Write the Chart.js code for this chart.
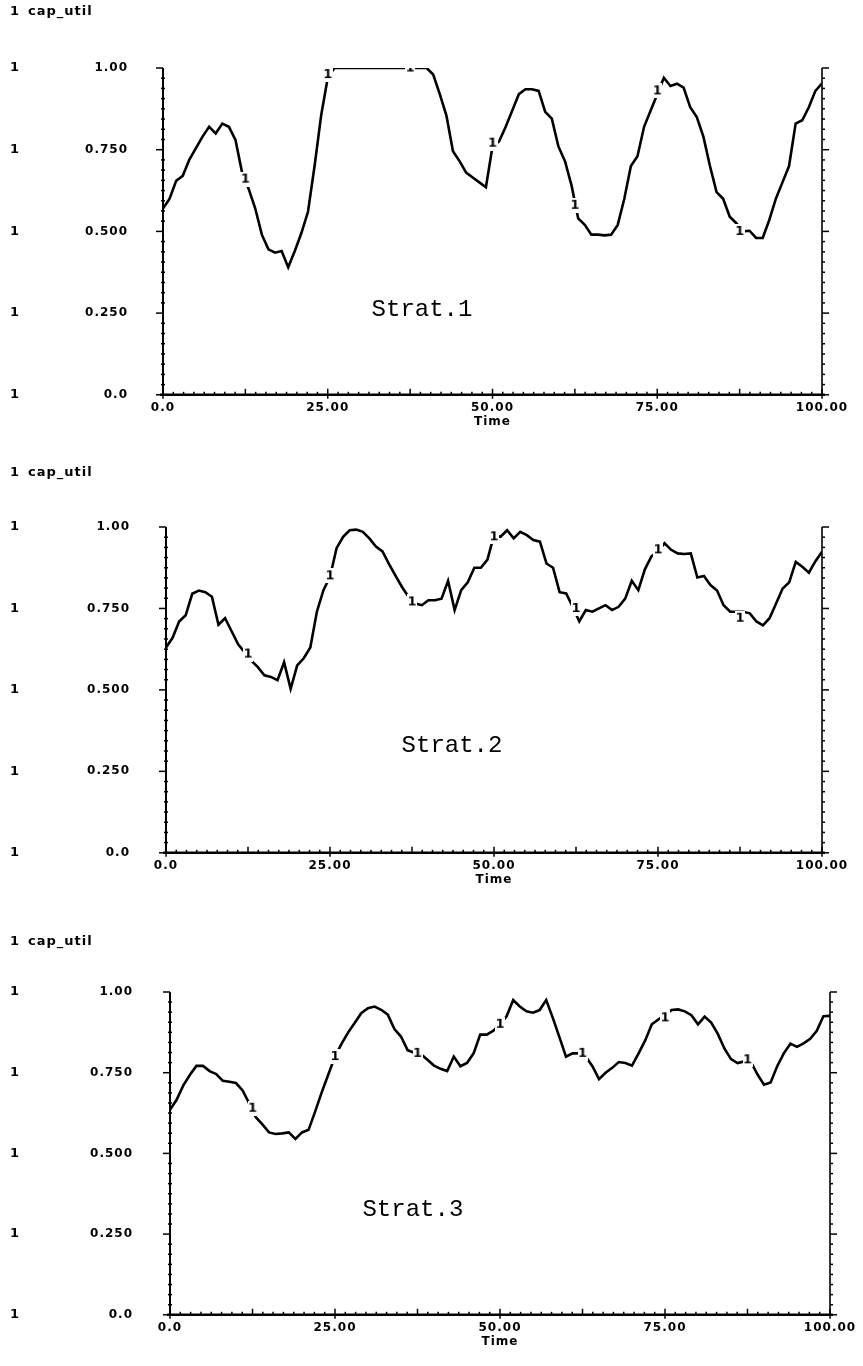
<!DOCTYPE html>
<html>
<head>
<meta charset="utf-8">
<title>cap_util</title>
<script src="https://cdn.jsdelivr.net/npm/chart.js@4.4.1/dist/chart.umd.min.js"></script>
<style>
    html, body { margin: 0; padding: 0; background: #fff; }
    #page { position: relative; width: 863px; height: 1366px; overflow: hidden; }
    .plot { position: absolute; left: 0; }
</style>
</head>
<body>
<div id="page">
    <canvas id="strat1" class="plot"></canvas>
    <canvas id="strat2" class="plot"></canvas>
    <canvas id="strat3" class="plot"></canvas>
</div>
<script>
// cap_util over Time, three strategies

var timeSteps = [0, 1, 2, 3, 4, 5, 6, 7, 8, 9, 10, 11, 12, 13, 14, 15, 16, 17, 18, 19, 20,
    21, 22, 23, 24, 25, 26, 27, 28, 29, 30, 31, 32, 33, 34, 35, 36, 37, 38, 39, 40,
    41, 42, 43, 44, 45, 46, 47, 48, 49, 50, 51, 52, 53, 54, 55, 56, 57, 58, 59, 60,
    61, 62, 63, 64, 65, 66, 67, 68, 69, 70, 71, 72, 73, 74, 75, 76, 77, 78, 79, 80,
    81, 82, 83, 84, 85, 86, 87, 88, 89, 90, 91, 92, 93, 94, 95, 96, 97, 98, 99, 100];

var strat1Util = [0.57, 0.60, 0.655, 0.67, 0.72, 0.755, 0.79, 0.82, 0.80, 0.83, 0.82,
    0.78, 0.68, 0.63, 0.57, 0.49, 0.445, 0.435, 0.44, 0.39, 0.44,
    0.495, 0.56, 0.70, 0.855, 0.97, 1.0, 1.0, 1.0, 1.0, 1.0,
    1.0, 1.0, 1.0, 1.0, 1.0, 1.0, 1.0, 1.0, 1.0, 1.0,
    0.98, 0.92, 0.855, 0.745, 0.715, 0.68, 0.665, 0.65, 0.635, 0.76,
    0.775, 0.82, 0.87, 0.92, 0.935, 0.935, 0.93, 0.866, 0.845, 0.76,
    0.715, 0.64, 0.54, 0.52, 0.49, 0.49, 0.488, 0.49, 0.52, 0.60,
    0.70, 0.73, 0.82, 0.87, 0.92, 0.97, 0.945, 0.952, 0.94, 0.88,
    0.85, 0.79, 0.70, 0.62, 0.60, 0.545, 0.525, 0.50, 0.502, 0.48,
    0.48, 0.535, 0.60, 0.65, 0.70, 0.83, 0.84, 0.88, 0.93, 0.953];

var strat2Util = [0.63, 0.66, 0.71, 0.729, 0.795, 0.805, 0.80, 0.786, 0.70, 0.72, 0.68,
    0.64, 0.615, 0.59, 0.57, 0.545, 0.54, 0.53, 0.585, 0.503, 0.575,
    0.597, 0.63, 0.74, 0.806, 0.847, 0.935, 0.97, 0.99, 0.992, 0.985,
    0.965, 0.94, 0.925, 0.886, 0.85, 0.815, 0.785, 0.765, 0.76, 0.775,
    0.775, 0.78, 0.835, 0.745, 0.806, 0.83, 0.875, 0.875, 0.90, 0.975,
    0.97, 0.99, 0.965, 0.985, 0.975, 0.96, 0.955, 0.888, 0.875, 0.80,
    0.796, 0.755, 0.71, 0.745, 0.74, 0.75, 0.76, 0.745, 0.755, 0.78,
    0.835, 0.806, 0.87, 0.91, 0.925, 0.95, 0.93, 0.919, 0.917, 0.919,
    0.845, 0.85, 0.822, 0.805, 0.76, 0.74, 0.74, 0.74, 0.735, 0.71,
    0.698, 0.72, 0.765, 0.811, 0.83, 0.893, 0.878, 0.86, 0.895, 0.924];

var strat3Util = [0.635, 0.666, 0.71, 0.743, 0.771, 0.771, 0.755, 0.746, 0.725, 0.722, 0.718,
    0.695, 0.655, 0.612, 0.59, 0.565, 0.56, 0.562, 0.565, 0.545, 0.565,
    0.573, 0.63, 0.69, 0.745, 0.80, 0.84, 0.875, 0.905, 0.935, 0.95,
    0.955, 0.945, 0.93, 0.885, 0.862, 0.82, 0.812, 0.808, 0.79, 0.772,
    0.762, 0.755, 0.80, 0.77, 0.78, 0.81, 0.868, 0.868, 0.88, 0.90,
    0.925, 0.975, 0.955, 0.94, 0.936, 0.944, 0.975, 0.92, 0.86, 0.80,
    0.81, 0.81, 0.80, 0.77, 0.73, 0.75, 0.765, 0.783, 0.78, 0.772,
    0.81, 0.85, 0.90, 0.915, 0.93, 0.944, 0.946, 0.94, 0.928, 0.90,
    0.924, 0.905, 0.87, 0.825, 0.792, 0.78, 0.785, 0.784, 0.745, 0.713,
    0.72, 0.77, 0.81, 0.84, 0.83, 0.841, 0.855, 0.88, 0.925, 0.926];

// curve label "1" positions along each line
var markerTimes = [12.5, 25, 37.5, 50, 62.5, 75, 87.5];
var strat1Markers = [0.66, 0.98, 1.0, 0.77, 0.58, 0.93, 0.50];
var strat2Markers = [0.61, 0.85, 0.77, 0.97, 0.75, 0.93, 0.72];
var strat3Markers = [0.64, 0.80, 0.81, 0.90, 0.81, 0.92, 0.79];

var xTickLabels = ['0.0', '25.00', '50.00', '75.00', '100.00'];
var yTickLabels = ['0.0', '0.250', '0.500', '0.750', '1.00'];

(function () {
    'use strict';

    var ink = '#000',
        paper = '#fff',
        labelFont = '"DejaVu Sans", "Liberation Sans", sans-serif',
        monoFont = '"Liberation Mono", "DejaVu Sans Mono", monospace';

    // the little "1" the plotter writes on the curve, on a white patch
    var markerGlyph = document.createElement('canvas');
    markerGlyph.width = 10;
    markerGlyph.height = 15;
    var g = markerGlyph.getContext('2d');
    g.fillStyle = paper;
    g.fillRect(0, 0, 10, 15);
    g.fillStyle = ink;
    g.font = 'bold 13px ' + labelFont;
    g.textAlign = 'center';
    g.textBaseline = 'middle';
    g.fillText('1', 5, 8);

    function seg(ctx, x1, y1, x2, y2) {
        ctx.beginPath();
        ctx.moveTo(x1, y1);
        ctx.lineTo(x2, y2);
        ctx.stroke();
    }

    // axes frame, minor ticks, key column and the Strat caption
    var plotterFrame = {
        id: 'plotterFrame',
        beforeDraw: function (chart) {
            chart.ctx.letterSpacing = '1px';
        },
        afterDraw: function (chart, args, opts) {
            var ctx = chart.ctx,
                xs = chart.scales.x,
                ys = chart.scales.y,
                a = chart.chartArea,
                i, p, major;

            ctx.save();
            ctx.strokeStyle = ink;
            ctx.fillStyle = ink;

            ctx.lineWidth = 2;
            seg(ctx, a.left, a.top, a.left, a.bottom);
            ctx.lineWidth = 1.6;
            seg(ctx, a.right, a.top, a.right, a.bottom);
            ctx.lineWidth = 2.5;
            seg(ctx, a.left - 3, a.bottom, a.right + 3, a.bottom);

            ctx.lineWidth = 1.5;
            for (i = 0; i <= 32; i++) {
                p = ys.getPixelForValue(i / 32);
                major = i % 8 === 0;
                seg(ctx, a.left - (major ? 7 : 2), p, a.left + (major ? 0 : 2), p);
                seg(ctx, a.right, p, a.right + (major ? 7 : 3), p);
            }
            for (i = 0; i <= 64; i++) {
                p = xs.getPixelForValue(i * 100 / 64);
                major = i % 8 === 0;
                seg(ctx, p, a.bottom - (major ? 6 : 3), p, a.bottom + (i % 16 === 0 ? 4 : 0));
            }

            ctx.font = 'bold 13px ' + labelFont;
            ctx.textBaseline = 'middle';
            ctx.textAlign = 'center';
            ys.ticks.forEach(function (t) {
                ctx.fillText('1', opts.keyX, ys.getPixelForValue(t.value));
            });
            ctx.fillText('1', opts.keyX, a.top - opts.keyGap);
            ctx.textAlign = 'left';
            ctx.fillText('cap_util', opts.keyX + 13, a.top - opts.keyGap);

            ctx.letterSpacing = '0px';
            ctx.font = '24px ' + monoFont;
            ctx.textAlign = 'center';
            ctx.fillText(opts.caption, xs.getPixelForValue(opts.captionAt[0]), ys.getPixelForValue(opts.captionAt[1]));
            ctx.restore();
        }
    };

    function buildChart(id, values, markers, frame) {
        var canvas = document.getElementById(id);
        var axisBand = 34,
            bottomSlack = 10;   // room the layout keeps under the x axis anyway
        canvas.width = 863;
        canvas.height = frame.areaHeight + frame.padTop + axisBand + bottomSlack;
        canvas.style.top = (frame.areaTop - frame.padTop) + 'px';

        var curve = timeSteps.map(function (t, i) { return { x: t, y: values[i] }; });
        var keys = markerTimes.map(function (t, i) { return { x: t, y: markers[i] }; });

        return new Chart(canvas.getContext('2d'), {
            type: 'line',
            data: {
                datasets: [{
                    label: 'cap_util',
                    data: curve,
                    borderColor: ink,
                    borderWidth: 2.6,
                    pointRadius: 0,
                    tension: 0,
                    order: 2
                },
                {
                    label: 'key',
                    data: keys,
                    showLine: false,
                    pointStyle: markerGlyph,
                    pointRadius: 5,
                    order: 1
                }]
            },
            options: {
                responsive: false,
                maintainAspectRatio: false,
                animation: false,
                events: [],
                layout: {
                    padding: { top: frame.padTop, right: 863 - frame.right, bottom: 0, left: 0 }
                },
                plugins: {
                    legend: { display: false },
                    tooltip: { enabled: false },
                    plotterFrame: {
                        caption: frame.caption,
                        captionAt: frame.captionAt,
                        keyX: 15,
                        keyGap: frame.keyGap
                    }
                },
                scales: {
                    x: {
                        type: 'linear',
                        min: 0,
                        max: 100,
                        grid: { display: false, drawTicks: false, tickLength: 0 },
                        border: { display: false },
                        ticks: {
                            stepSize: 25,
                            padding: 6,
                            color: ink,
                            maxRotation: 0,
                            font: { family: labelFont, size: 12, weight: 'bold' },
                            callback: function (value, index) { return xTickLabels[index]; }
                        },
                        title: {
                            display: true,
                            text: 'Time',
                            color: ink,
                            padding: { top: 0, bottom: 0 },
                            font: { family: labelFont, size: 12, weight: 'bold' }
                        },
                        afterFit: function (scale) { scale.height = axisBand; }
                    },
                    y: {
                        min: 0,
                        max: 1,
                        grid: { display: false, drawTicks: false, tickLength: 0 },
                        border: { display: false },
                        ticks: {
                            stepSize: 0.25,
                            padding: frame.left - frame.labelRight,
                            color: ink,
                            font: { family: labelFont, size: 12, weight: 'bold' },
                            callback: function (value, index) { return yTickLabels[index]; }
                        },
                        afterFit: function (scale) { scale.width = frame.left; }
                    }
                }
            },
            plugins: [plotterFrame]
        });
    }

    //Strat.1
    buildChart('strat1', strat1Util, strat1Markers, {
        areaTop: 68, areaHeight: 325, padTop: 68, left: 163, right: 822, labelRight: 128,
        keyGap: 56, caption: 'Strat.1', captionAt: [39.3, 0.26]
    });

    //Strat.2
    buildChart('strat2', strat2Util, strat2Markers, {
        areaTop: 527, areaHeight: 325, padTop: 68, left: 166, right: 822, labelRight: 130,
        keyGap: 54, caption: 'Strat.2', captionAt: [43.6, 0.33]
    });

    //Strat.3
    buildChart('strat3', strat3Util, strat3Markers, {
        areaTop: 992, areaHeight: 323, padTop: 68, left: 170, right: 830, labelRight: 133,
        keyGap: 50, caption: 'Strat.3', captionAt: [36.8, 0.325]
    });
})();
</script>
</body>
</html>
